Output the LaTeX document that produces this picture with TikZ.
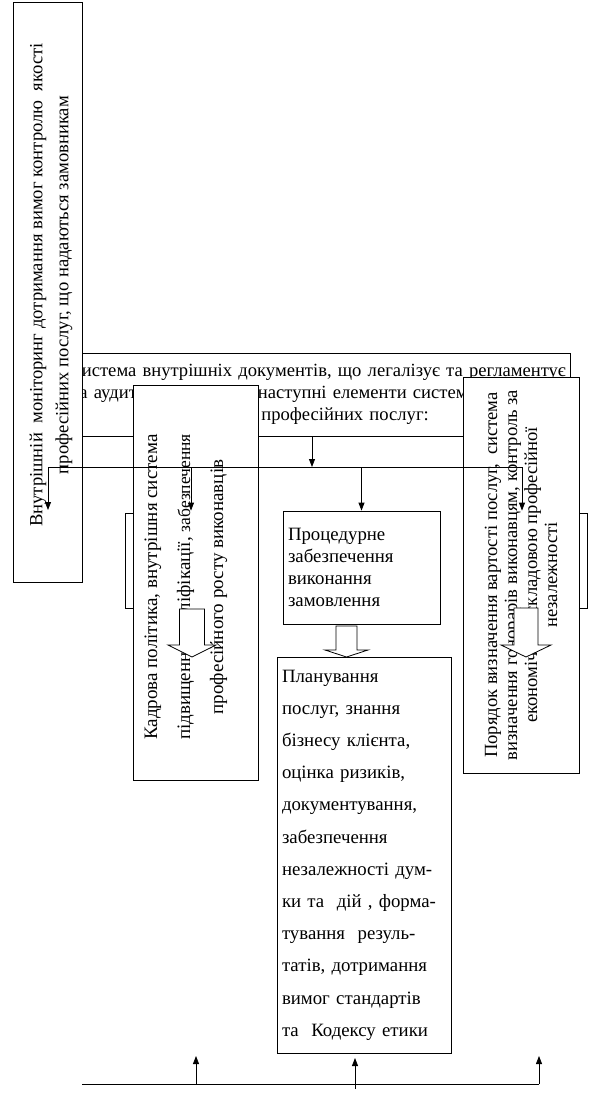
\documentclass[tikz,border=0pt]{standalone}
\usepackage{fontspec}
\setmainfont{Liberation Serif}
\usetikzlibrary{arrows.meta}

\tikzset{
  box/.style={draw, fill=white, line width=0.8pt},
  arr/.style={-{Triangle[length=8pt,width=6pt]}, line width=0.8pt},
}

\begin{document}
\begin{tikzpicture}
  [x=1pt,y=-1pt,line width=0.8pt]
  \useasboundingbox (0,0) rectangle (613,1110);

  % upper text block and the long box on the left
  \node (sys)[box, minimum width=504pt, minimum height=83pt, text width=497pt, align=left,
    font=\fontsize{18.6}{22}\selectfont] at (318,394.5)
    {\makebox[497pt][s]{Система внутрішніх документів, що легалізує та регламентує}\\
     \makebox[497pt][s]{на аудиторській фірмі\ \ наступні елементи системи контролю}\\
     \makebox[497pt]{якості професійних послуг:}};
  \node (mon)[box, rotate=90, minimum width=580pt, minimum height=69pt] at (47.5,292) {};
  \node (monT)[rotate=90, align=center, font=\fontsize{18.6}{26}\selectfont] at (51,285)
    {Внутрішній\ \ моніторинг дотримання вимог контролю\ \ якості\\
     професійних послуг, що надаються замовникам};

  % boxes under the bus
  \node (hidL)[box, minimum width=132pt, minimum height=95pt] at (191,560.5) {};
  \node (hidR)[box, minimum width=122pt, minimum height=95pt] at (526,560.5) {};
  \node (proc)[box, minimum width=157pt, minimum height=113pt, text width=147pt, align=left,
    font=\fontsize{18.8}{22}\selectfont] at (361.5,567.5)
    {Процедурне\\забезпечення\\виконання\\замовлення};
  \node (plan)[box, minimum width=174pt, minimum height=396pt, text width=164pt, align=left,
    font=\fontsize{18.8}{32.2}\selectfont] at (364,855)
    {Планування\\послуг, знання\\бізнесу клієнта,\\оцінка ризиків,\\документування,\\
     забезпечення\\незалежності дум-\\ки та\ \ дій , форма-\\тування\ \ резуль-\\
     татів, дотримання\\вимог стандартів\\та\ \ Кодексу етики};

  % rotated boxes
  \node (kadr)[box, rotate=90, minimum width=395pt, minimum height=125pt] at (195.5,582.5) {};
  \node (kadrT)[rotate=90, align=center, font=\fontsize{19}{33}\selectfont] at (186,587)
    {Кадрова політика, внутрішня система\\
     підвищення кваліфікації, {\fontsize{17.5}{33}\selectfont забезпечення}\\
     професійного росту виконавців};
  \node (cost)[box, rotate=90, minimum width=396pt, minimum height=116pt, align=center,
    font=\fontsize{18.6}{20}\selectfont] at (521,575)
    {Порядок визначення вартості послуг,\ \ система\\
     визначення гонорарів виконавцям, контроль за\\
     економічною складовою професійної\\незалежності};

  % hollow arrows
  \foreach \x/\a/\b/\ya/\yb/\yc in {192/12.5/24/609/645/657,346.5/10.5/21.5/626/650/657,526/12/25/608/645/657}
    \draw[box] (\x-\a,\ya) -- (\x+\a,\ya) -- (\x+\a,\yb) -- (\x+\b,\yb) -- (\x,\yc)
      -- (\x-\b,\yb) -- (\x-\a,\yb) -- cycle;

  % bus under the upper block
  \coordinate (busL) at (48,467);
  \coordinate (busR) at (522,467);
  \coordinate (busC) at (312,467);
  \coordinate (tipL) at (48,510);
  \draw (busL) -- (busR);
  \draw[arr] (busC |- sys.south) -- (busC);
  \draw[arr] (busL) -- (tipL);
  \draw[arr, shorten >=2pt] (busR) -- (busR |- hidR.north);
  \draw[arr, shorten >=2pt] (hidL.north |- busL) -- (hidL.north);
  \draw[arr] (proc.north |- busL) -- (proc.north);

  % bottom line
  \coordinate (botL) at (82,1084);
  \coordinate (botR) at (539,1084);
  \coordinate (upA) at (196,1056);
  \coordinate (upB) at (355,1058);
  \coordinate (downB) at (355,1089);
  \coordinate (upC) at (539,1056);
  \draw (botL) -- (botR);
  \draw[arr] (upA |- botL) -- (upA);
  \draw[arr] (downB) -- (upB);
  \draw[arr] (botR) -- (upC);
\end{tikzpicture}
\end{document}
